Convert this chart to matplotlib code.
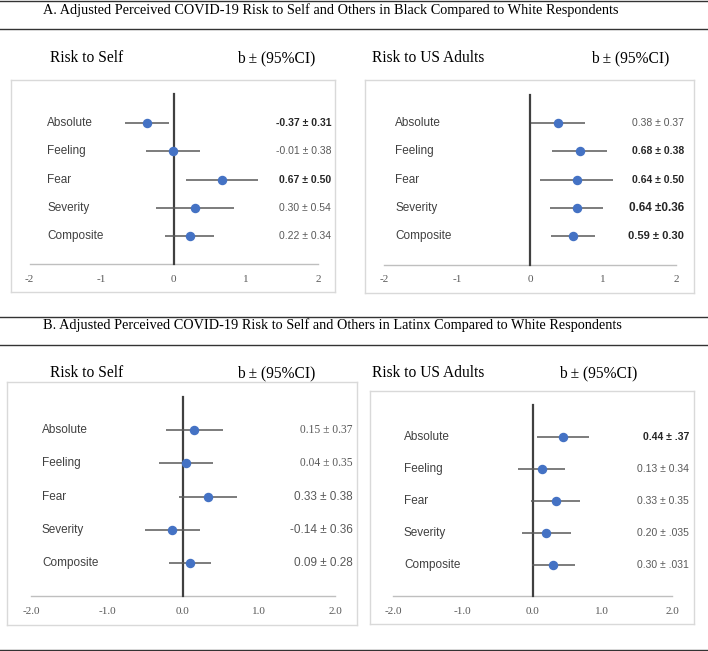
#!/usr/bin/env python3

import matplotlib
matplotlib.use("Agg")
import matplotlib.pyplot as plt
from matplotlib.lines import Line2D

W, H = 708, 651

labels = ["Absolute", "Feeling", "Fear", "Severity", "Composite"]
xticks = [-2, -1, 0, 1, 2]

# A. Black vs White
a_self_b = [-0.37, -0.01, 0.67, 0.30, 0.22]
a_self_ci = [0.31, 0.38, 0.50, 0.54, 0.34]
a_self_txt = ["-0.37 ± 0.31", "-0.01 ± 0.38", "0.67 ± 0.50", "0.30 ± 0.54", "0.22 ± 0.34"]
a_us_b = [0.38, 0.68, 0.64, 0.64, 0.59]
a_us_ci = [0.37, 0.38, 0.50, 0.36, 0.30]
a_us_txt = ["0.38 ± 0.37", "0.68 ± 0.38", "0.64 ± 0.50", "0.64 ±0.36", "0.59 ± 0.30"]

# B. Latinx vs White
b_self_b = [0.15, 0.04, 0.33, -0.14, 0.09]
b_self_ci = [0.37, 0.35, 0.38, 0.36, 0.28]
b_self_txt = ["0.15 ± 0.37", "0.04 ± 0.35", "0.33 ± 0.38", "-0.14 ± 0.36", "0.09 ± 0.28"]
b_us_b = [0.44, 0.13, 0.33, 0.20, 0.30]
b_us_ci = [0.37, 0.34, 0.35, 0.35, 0.31]
b_us_txt = ["0.44 ± .37", "0.13 ± 0.34", "0.33 ± 0.35", "0.20 ± .035", "0.30 ± .031"]

SERIF = "Liberation Serif"
SANS = "Liberation Sans"

fig = plt.figure(figsize=(W / 100, H / 100), dpi=100)


def fx(x):
    return x / W


def fy(y):
    return 1 - y / H


def panel(box, xm2, xp2, row0, drow, vtop, axis_y, lab_x, val_x,
          b, ci, txt, bold, serif_vals, tick_fmt, val_size):
    x0, y0, x1, y1 = box
    ax = fig.add_axes([fx(x0), fy(y1), (x1 - x0) / W, (y1 - y0) / H])
    unit = (xp2 - xm2) / 4
    zero = (xm2 + xp2) / 2
    ax.set_xlim((x0 - zero) / unit, (x1 - zero) / unit)
    ax.set_ylim((y1 - row0) / drow, (y0 - row0) / drow)
    ax.set_xticks([])
    ax.set_yticks([])
    for s in ax.spines.values():
        s.set_color("#d9d9d9")
        s.set_linewidth(1.0)

    ya = (axis_y - row0) / drow
    yt = (vtop - row0) / drow
    ax.plot([xticks[0], xticks[-1]], [ya, ya], color="#bfbfbf", lw=1.0, zorder=1)
    ax.plot([0, 0], [yt, ya], color="#404040", lw=1.6, zorder=2)

    rows = list(range(len(labels)))
    ax.hlines(rows, [v - c for v, c in zip(b, ci)], [v + c for v, c in zip(b, ci)],
              color="#595959", lw=1.1, zorder=3)
    ax.plot(b, rows, "o", color="#4472c4", ms=5.8, zorder=4)

    lx = (lab_x - zero) / unit
    vx = (val_x - zero) / unit
    for i, lab in enumerate(labels):
        ax.text(lx, i, lab, ha="left", va="center", fontsize=8.5,
                family=SANS, color="#404040")
        ax.text(vx, i, txt[i], ha="right", va="center",
                fontsize=val_size[i], family=SERIF if serif_vals[i] else SANS,
                fontweight="bold" if bold[i] else "normal",
                color="#262626" if bold[i] else "#595959")
    yl = (axis_y + 15 - row0) / drow
    for t in xticks:
        ax.text(t, yl, tick_fmt.format(t), ha="center", va="center",
                fontsize=8, family=SERIF, color="#595959")
    return ax


# horizontal rules
for y in [0.5, 29, 317, 345, 650]:
    fig.add_artist(Line2D([0, 1], [fy(y), fy(y)], color="#333333", lw=1.0))

fig.text(fx(43), fy(10), "A. Adjusted Perceived COVID-19 Risk to Self and Others in Black Compared to White Respondents",
         ha="left", va="center", fontsize=10.25, family=SERIF)
fig.text(fx(43), fy(325), "B. Adjusted Perceived COVID-19 Risk to Self and Others in Latinx Compared to White Respondents",
         ha="left", va="center", fontsize=10.25, family=SERIF)

for x, y, s in [(50, 58, "Risk to Self"), (237, 58, "b ± (95%CI)"),
                (372, 58, "Risk to US Adults"), (591, 58, "b ± (95%CI)"),
                (50, 373, "Risk to Self"), (237, 373, "b ± (95%CI)"),
                (372, 373, "Risk to US Adults"), (559, 373, "b ± (95%CI)")]:
    fig.text(fx(x), fy(y), s, ha="left", va="center", fontsize=11.2, family=SERIF)

panel((11, 80, 335, 292), 29.5, 318, 123, 28.3, 94, 264, 47, 331,
      a_self_b, a_self_ci, a_self_txt,
      [True, False, True, False, False], [False] * 5, "{:d}", [7.5] * 5)
panel((365, 80, 694, 293), 384, 676, 123, 28.3, 95, 265, 395, 684,
      a_us_b, a_us_ci, a_us_txt,
      [False, True, True, True, True], [False] * 5, "{:d}", [7.5, 7.5, 7.5, 8.5, 8.0])
panel((7, 382, 357, 625), 31, 335, 430, 33.25, 397, 596, 42, 353,
      b_self_b, b_self_ci, b_self_txt,
      [False] * 5, [True, True, False, False, False], "{:.1f}", [8.3, 8.3, 8.5, 8.5, 8.5])
panel((370, 391, 694, 624), 393, 672, 437, 32, 405, 596, 404, 689,
      b_us_b, b_us_ci, b_us_txt,
      [True, False, False, False, False], [False, False, False, False, False], "{:.1f}", [7.5] * 5)

fig.savefig("out.png", dpi=100)
